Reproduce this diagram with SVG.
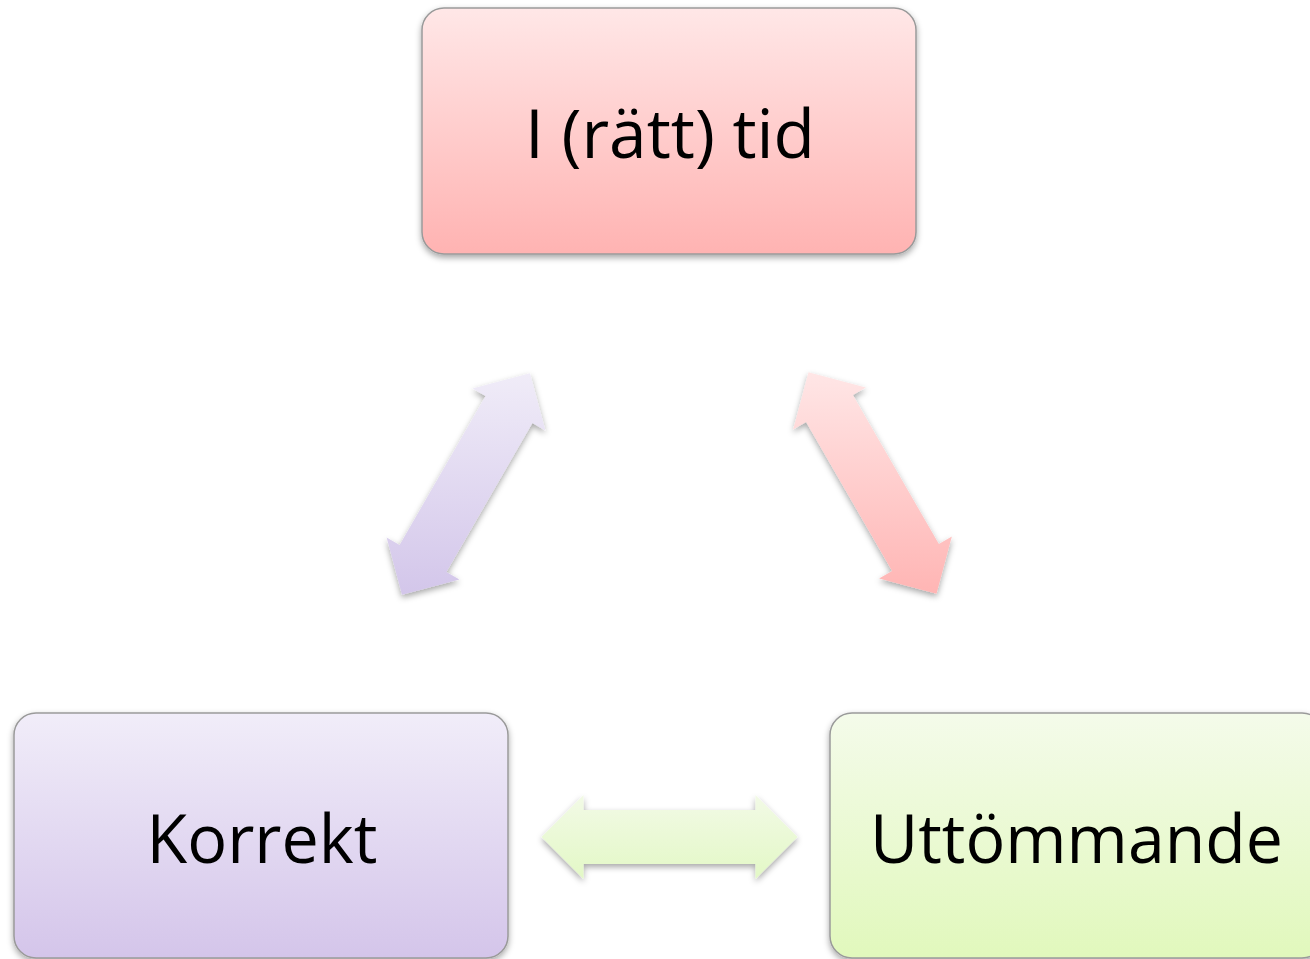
<svg xmlns="http://www.w3.org/2000/svg" width="1310" height="959" viewBox="0 0 1310 959">
<style>
.box{stroke:#9a9a9a;stroke-width:1.5}
.lbl{font-family:"Open Sans","Liberation Sans",sans-serif;font-size:68px;fill:#000;text-anchor:middle}
</style>
<defs>
<linearGradient id="gRed" x1="0" y1="0" x2="0" y2="1"><stop offset="0" stop-color="#FFE7E7"/><stop offset="1" stop-color="#FFB3B2"/></linearGradient>
<linearGradient id="gPur" x1="0" y1="0" x2="0" y2="1"><stop offset="0" stop-color="#F1EDF9"/><stop offset="1" stop-color="#D4C5EA"/></linearGradient>
<linearGradient id="gGrn" x1="0" y1="0" x2="0" y2="1"><stop offset="0" stop-color="#F4FBEA"/><stop offset="1" stop-color="#E1F8BC"/></linearGradient>
<linearGradient id="aRed" x1="0" y1="0" x2="0" y2="1"><stop offset="0" stop-color="#FFE6E6"/><stop offset="1" stop-color="#FFB5B4"/></linearGradient>
<linearGradient id="aPur" x1="0" y1="0" x2="0" y2="1"><stop offset="0" stop-color="#F0ECF8"/><stop offset="1" stop-color="#D3C6EA"/></linearGradient>
<linearGradient id="aGrn" x1="0" y1="0" x2="0" y2="1"><stop offset="0" stop-color="#F2FAE6"/><stop offset="1" stop-color="#E3F8C6"/></linearGradient>
<filter id="sh" x="-10%" y="-10%" width="120%" height="130%"><feDropShadow dx="0" dy="3" stdDeviation="3" flood-color="#000" flood-opacity="0.35"/></filter>
</defs>
<g id="connectors">
<path id="arrow-left" filter="url(#sh)" fill="url(#aPur)" d="M530,373.15 L472.6,388.5 L485.6,396 L399.6,545 L386.6,537.5 L402,594.85 L459.4,579.5 L446.4,572 L532.4,423 L545.4,430.5 Z"/>
<path id="arrow-right" filter="url(#sh)" fill="url(#aRed)" d="M936.5,593.85 L951.87,536.48 L938.88,543.98 L852.88,395.02 L865.87,387.52 L808.5,372.15 L793.13,429.52 L806.12,422.02 L892.12,570.98 L879.13,578.48 Z"/>
<path id="arrow-bottom" filter="url(#sh)" fill="url(#aGrn)" d="M797.5,837 L755.5,795 L755.5,810 L583.5,810 L583.5,795 L541.5,837 L583.5,879 L583.5,864 L755.5,864 L755.5,879 Z"/>
</g>
<g id="node-tid">
<rect class="box" x="422" y="8" width="494" height="246" rx="22" fill="url(#gRed)" filter="url(#sh)"/>
<text class="lbl" x="670" y="158" textLength="290" lengthAdjust="spacingAndGlyphs">I (rätt) tid</text>
</g>
<g id="node-korrekt">
<rect class="box" x="14" y="713" width="494" height="245" rx="22" fill="url(#gPur)" filter="url(#sh)"/>
<text class="lbl" x="262" y="863" textLength="231" lengthAdjust="spacingAndGlyphs">Korrekt</text>
</g>
<g id="node-uttommande">
<rect class="box" x="830" y="713" width="494" height="245" rx="22" fill="url(#gGrn)" filter="url(#sh)"/>
<text class="lbl" x="1076.5" y="863" textLength="413" lengthAdjust="spacingAndGlyphs">Uttömmande</text>
</g>
</svg>
